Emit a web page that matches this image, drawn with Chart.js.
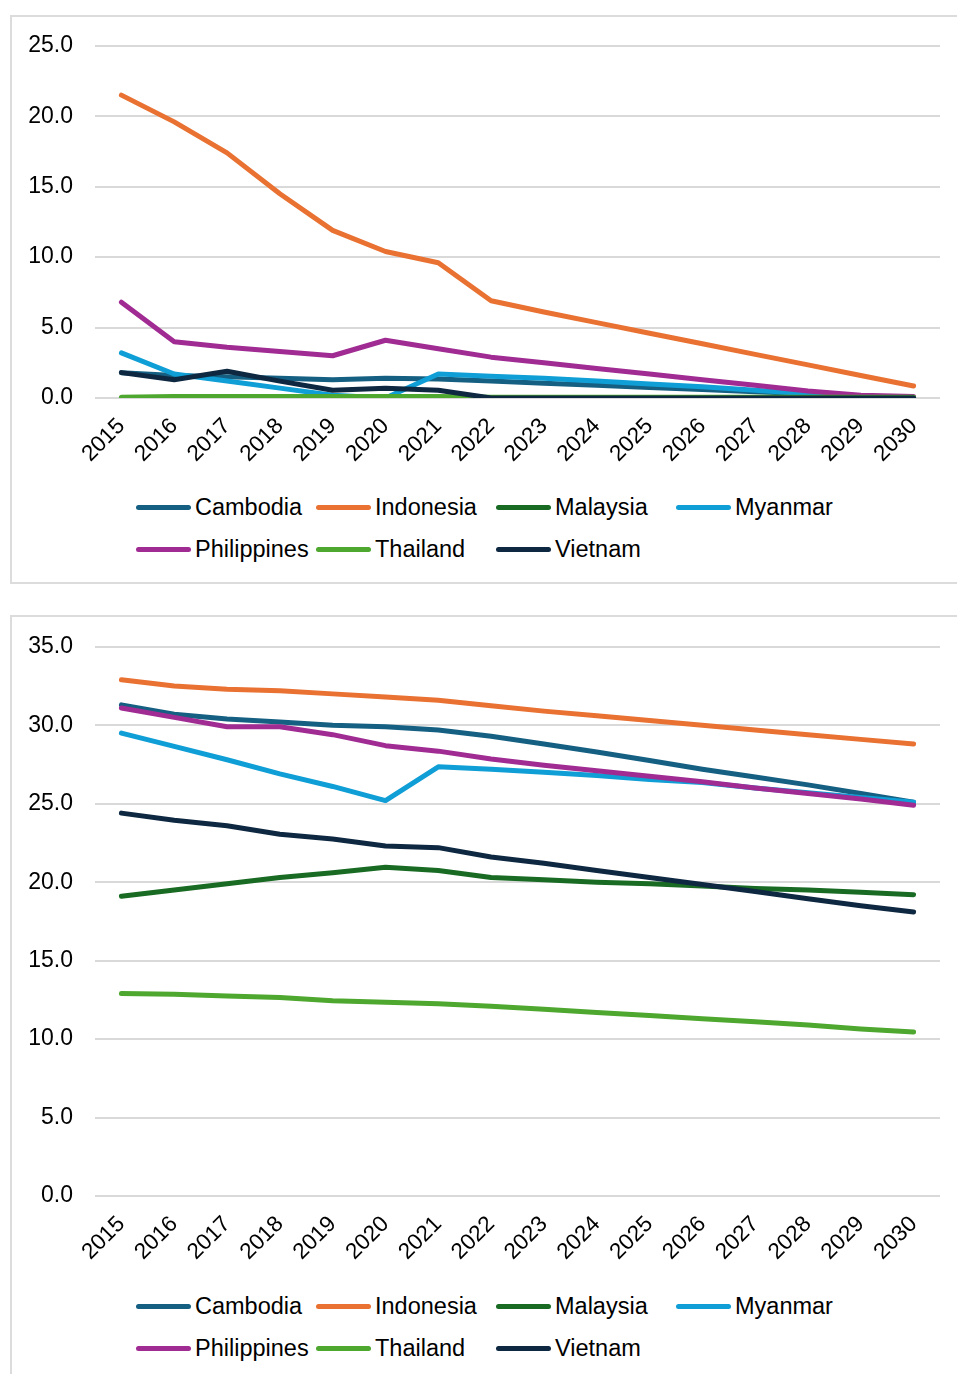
<!DOCTYPE html>
<html>
<head>
<meta charset="utf-8">
<script src="https://cdn.jsdelivr.net/npm/chart.js@4.4.1/dist/chart.umd.min.js"></script>
<style>
  html, body { margin: 0; padding: 0; background: #fff; }
  body { width: 957px; height: 1374px; position: relative; overflow: hidden; font-family: "Liberation Sans", Arial, sans-serif; }
  .box { position: absolute; left: 10px; width: 980px; border: 2px solid #dcdcdc; box-sizing: border-box; }
  canvas { position: absolute; }
  .legend { position: absolute; left: 136px; width: 760px; }
  .item { position: absolute; display: flex; align-items: center; font-size: 23.5px; color: #000; white-space: nowrap; }
  .swatch { width: 55px; height: 5px; border-radius: 3px; margin-right: 4px; }
</style>
</head>
<body>
<div class="box" style="top:15px; height:569px;"></div>
<div class="box" style="top:615px; height:800px;"></div>
<canvas id="chartTop" width="947" height="458" style="left:10px; top:10px;"></canvas>
<canvas id="chartBottom" width="947" height="655" style="left:10px; top:611px;"></canvas>
<div class="legend" id="legendTop" style="top:494px;"></div>
<div class="legend" id="legendBottom" style="top:1293px;"></div>
<script>
'use strict';
// categories and series
var years = ['2015', '2016', '2017', '2018', '2019', '2020', '2021', '2022',
  '2023', '2024', '2025', '2026', '2027', '2028', '2029', '2030'];
var countries = ['Cambodia', 'Indonesia', 'Malaysia', 'Myanmar', 'Philippines', 'Thailand', 'Vietnam'];
var colors = ['#156082', '#E97132', '#196B24', '#0F9ED5', '#A02B93', '#4EA72E', '#0E2841'];

// top chart
var topCambodia = [1.8, 1.6, 1.5, 1.4, 1.3, 1.4, 1.35, 1.2, 1.05, 0.9, 0.75, 0.6, 0.45, 0.3, 0.15, 0.05];
var topIndonesia = [21.5, 19.6, 17.4, 14.5, 11.9, 10.4, 9.6, 6.9, 6.1, 5.35, 4.6, 3.85, 3.1, 2.35, 1.6, 0.85];
var topMalaysia = [0, 0, 0, 0, 0, 0, 0, 0, 0, 0, 0, 0, 0, 0, 0, 0];
var topMyanmar = [3.2, 1.7, 1.2, 0.7, 0.2, 0.0, 1.7, 1.55, 1.4, 1.2, 1.0, 0.8, 0.55, 0.3, 0.1, 0.0];
var topPhilippines = [6.8, 4.0, 3.6, 3.3, 3.0, 4.1, 3.5, 2.9, 2.5, 2.1, 1.7, 1.3, 0.9, 0.5, 0.2, 0.1];
var topThailand = [0.05, 0.1, 0.1, 0.1, 0.1, 0.1, 0.1, 0.05, 0.05, 0.05, 0.05, 0.05, 0.05, 0.05, 0.05, 0.05];
var topVietnam = [1.8, 1.3, 1.9, 1.2, 0.55, 0.7, 0.55, 0, 0, 0, 0, 0, 0, 0, 0, 0];
var topTicks = [0, 25, 5];

// bottom chart
var botCambodia = [31.3, 30.7, 30.4, 30.2, 30.0, 29.9, 29.7, 29.3, 28.8, 28.3, 27.75, 27.2, 26.7, 26.2, 25.65, 25.1];
var botIndonesia = [32.9, 32.5, 32.3, 32.2, 32.0, 31.8, 31.6, 31.25, 30.9, 30.6, 30.3, 30.0, 29.7, 29.4, 29.1, 28.8];
var botMalaysia = [19.1, 19.5, 19.9, 20.3, 20.6, 20.95, 20.75, 20.3, 20.15, 20.0, 19.9, 19.75, 19.6, 19.5, 19.35, 19.2];
var botMyanmar = [29.5, 28.65, 27.8, 26.9, 26.1, 25.2, 27.35, 27.2, 27.0, 26.8, 26.55, 26.35, 26.0, 25.7, 25.4, 25.1];
var botPhilippines = [31.1, 30.5, 29.9, 29.9, 29.4, 28.7, 28.35, 27.85, 27.45, 27.1, 26.75, 26.4, 26.0, 25.65, 25.3, 24.9];
var botThailand = [12.9, 12.85, 12.75, 12.65, 12.45, 12.35, 12.25, 12.1, 11.9, 11.7, 11.5, 11.3, 11.1, 10.9, 10.65, 10.45];
var botVietnam = [24.4, 23.95, 23.6, 23.05, 22.75, 22.3, 22.2, 21.6, 21.2, 20.75, 20.3, 19.85, 19.4, 18.95, 18.5, 18.1];
var bottomTicks = [0, 35, 5];

var fontFamily = '"Liberation Sans", Arial, sans-serif';

function makeDatasets(seriesList) {
  var sets = [];
  for (var i = 0; i < countries.length; i++) {
    sets.push({
      label: countries[i],
      data: seriesList[i],
      borderColor: colors[i],
      backgroundColor: colors[i],
      borderWidth: 5,
      borderCapStyle: 'round',
      borderJoinStyle: 'round',
      pointRadius: 0,
      tension: 0,
      // later series drawn on top, like the original
      order: countries.length - i,
    });
  }
  return sets;
}

function makeChart(id, seriesList, ticks, padTop) {
  var ctx = document.getElementById(id).getContext('2d');
  return new Chart(ctx, {
    type: 'line',
    data: {
      labels: years,
      datasets: makeDatasets(seriesList),
    },
    options: {
      responsive: false,
      animation: false,
      devicePixelRatio: 1,
      layout: { padding: { top: padTop, right: 17, left: 0, bottom: 0 } },
      plugins: { legend: { display: false }, tooltip: { enabled: false } },
      scales: {
        x: {
          offset: true,
          grid: { display: false, drawTicks: false },
          border: { display: false },
          ticks: {
            color: '#000',
            font: { family: fontFamily, size: 22.5 },
            minRotation: 45,
            maxRotation: 45,
            autoSkip: false,
            padding: 15,
          },
          afterFit: function (scale) { scale.height = 70; },
        },
        y: {
          min: ticks[0],
          max: ticks[1],
          grid: { color: '#d9d9d9', lineWidth: 2, drawTicks: false },
          border: { display: false },
          ticks: {
            stepSize: ticks[2],
            color: '#000',
            font: { family: fontFamily, size: 23 },
            padding: 22,
            callback: function (value) { return value.toFixed(1); },
          },
          afterFit: function (scale) { scale.width = 85; },
        },
      },
    },
  });
}

function buildLegend(id) {
  var box = document.getElementById(id);
  for (var i = 0; i < countries.length; i++) {
    var item = document.createElement('div');
    item.className = 'item';
    item.style.left = (i % 4) * 180 + 'px';
    item.style.top = Math.floor(i / 4) * 42 + 'px';
    var swatch = document.createElement('div');
    swatch.className = 'swatch';
    swatch.style.background = colors[i];
    var text = document.createElement('span');
    text.textContent = countries[i];
    item.appendChild(swatch);
    item.appendChild(text);
    box.appendChild(item);
  }
}

makeChart('chartTop', [topCambodia, topIndonesia, topMalaysia, topMyanmar, topPhilippines, topThailand, topVietnam], topTicks, 23);
makeChart('chartBottom', [botCambodia, botIndonesia, botMalaysia, botMyanmar, botPhilippines, botThailand, botVietnam], bottomTicks, 24);
buildLegend('legendTop');
buildLegend('legendBottom');
</script>
</body>
</html>
